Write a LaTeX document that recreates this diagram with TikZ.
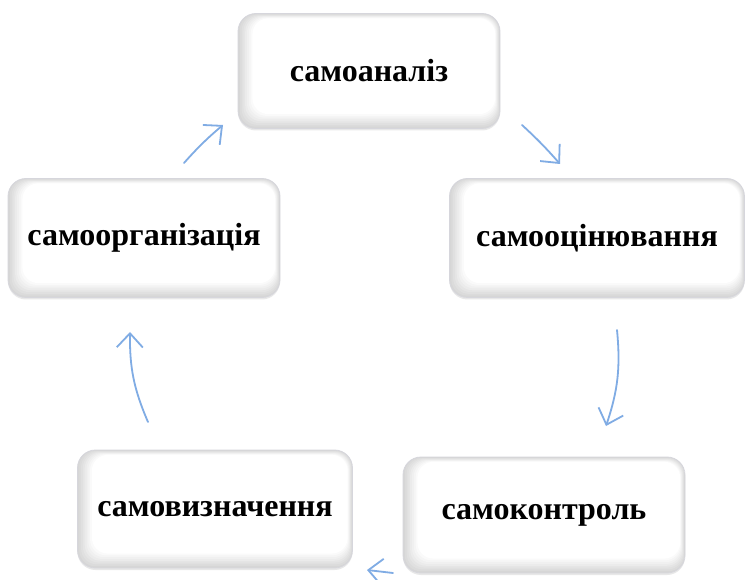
\documentclass[tikz,border=0pt]{standalone}
\usepackage{fontspec}
\setmainfont{Liberation Serif}
\usepackage{tikz}
\usetikzlibrary{shadows}
\usetikzlibrary{arrows.meta}

\begin{document}
\begin{tikzpicture}[x=1pt,y=1pt,
  stagebox/.style={rounded corners=18pt, draw=lineColor, line width=0.8pt, fill=white,
    drop shadow={shadow xshift=0pt, shadow yshift=-2pt, opacity=0.18, fill=gray},
    font=\fontsize{32}{36}\selectfont\bfseries, text=black, inner sep=0pt,
    path picture={
      \foreach \k in {0,...,8}{
        \pgfmathsetmacro{\shade}{16-2*\k}
        \fill[black!\shade!white, rounded corners=16pt]
          ([xshift=1.8*\k pt,yshift=1.8*\k pt]path picture bounding box.south west) rectangle
          ([xshift=-0.6*\k pt,yshift=-0.6*\k pt]path picture bounding box.north east);
      }
    }},
  flowarrow/.style={draw=arrowColor, line width=1.8pt, line cap=round,
    -{Straight Barb[length=14pt,width=26pt,line width=1.8pt]}}]
\definecolor{fillColor}{RGB}{255,255,255}
\definecolor{lineColor}{RGB}{214,214,220}
\definecolor{arrowColor}{RGB}{128,172,228}
\path[use as bounding box,fill=fillColor] (0,0) rectangle (747,579);

\node[stagebox, minimum width=262pt, minimum height=115pt] (analiz) at (369,508) {самоаналіз};
\node[stagebox, minimum width=295pt, minimum height=119pt] (ocin) at (597,341) {самооцінювання};
\node[stagebox, minimum width=282pt, minimum height=116pt] (kontrol) at (544,64) {самоконтроль};
\node[stagebox, minimum width=275pt, minimum height=118pt] (vyzn) at (215,70) {самовизначення};
\node[stagebox, minimum width=272pt, minimum height=119pt] (orhan) at (144,341) {самоорганізація};

\coordinate (a1s) at (184,416);
\coordinate (a1e) at (223,454);
\coordinate (a2s) at (522,454);
\coordinate (a2e) at (560,415);
\coordinate (a3s) at (617,249);
\coordinate (a3e) at (606,153);
\coordinate (a4s) at (393,6);
\coordinate (a4e) at (367,9);
\coordinate (a5s) at (148,157);
\coordinate (a5e) at (130,247);

\draw[flowarrow] (a1s) to[bend left=4] (a1e);
\draw[flowarrow] (a2s) to[bend left=3] (a2e);
\draw[flowarrow] (a3s) to[bend left=12] (a3e);
\draw[flowarrow] (a4s) to (a4e);
\draw[flowarrow] (a5s) to[bend left=12] (a5e);
\end{tikzpicture}
\end{document}
